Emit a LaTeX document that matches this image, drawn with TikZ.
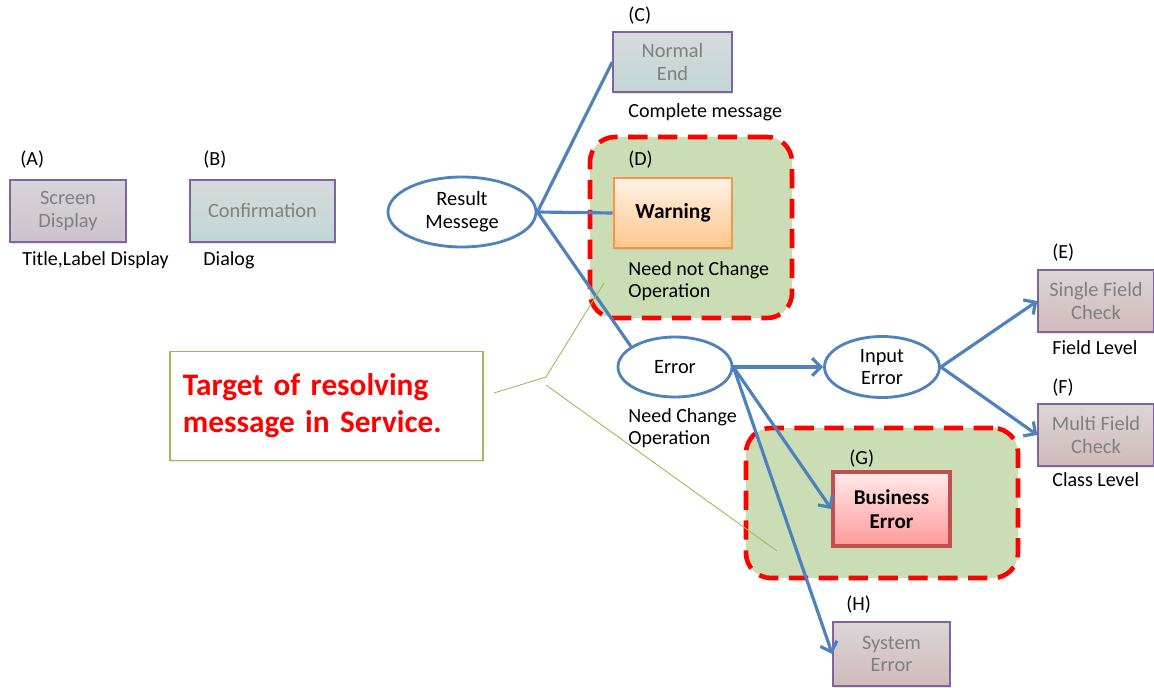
\documentclass[tikz,border=0pt]{standalone}
\usepackage{fontspec}
\setmainfont{Carlito}
\usetikzlibrary{arrows.meta,shapes.geometric,shadows}

\definecolor{linkblue}{HTML}{4F81BD}
\definecolor{framepurple}{HTML}{8064A2}
\definecolor{groupgreen}{HTML}{CADDB4}
\definecolor{calloutgreen}{HTML}{9BBB59}
\definecolor{warnorange}{HTML}{F79646}
\definecolor{bizred}{HTML}{C0504D}

\begin{document}
\begin{tikzpicture}[x=0.2mm, y=-0.2mm,
    lbl/.style={anchor=west, inner sep=0pt, font=\fontsize{11.4}{12.5}\selectfont, align=left},
    greybox/.style={rectangle, draw=framepurple, line width=0.8pt, text=black!50, align=center,
        font=\fontsize{11.6}{13}\selectfont, drop shadow={opacity=0.2, shadow xshift=0.6pt, shadow yshift=-0.9pt}},
    purplefill/.style={top color=violet!12!gray!30, bottom color=violet!18!gray!40},
    bluefill/.style={top color=cyan!5!gray!30, bottom color=cyan!20!gray!40},
    rosefill/.style={top color=red!8!gray!30, bottom color=red!20!gray!45},
    oval/.style={ellipse, draw=linkblue, line width=1.6pt, fill=white, align=center,
        font=\fontsize{11.6}{13}\selectfont, inner sep=0pt},
    groupbox/.style={rectangle, rounded corners=5mm, fill=groupgreen, draw=red, line width=2.6pt,
        dash pattern=on 11pt off 6pt},
    link/.style={draw=linkblue, line width=1.8pt},
    linkarrow/.style={link, -{Straight Barb[length=5pt, width=10pt]}},
    callout/.style={draw=calloutgreen, line width=0.5pt}
]
    \fill[white] (0,0) rectangle (1154,688);
    \useasboundingbox (0,0) rectangle (1154,688);

    % Groups
    \node[groupbox, minimum width=40.4mm, minimum height=36.2mm] (grpD) at (691,227.5) {};
    \node[groupbox, minimum width=54.4mm, minimum height=30mm] (grpG) at (882,503) {};

    % Left boxes
    \node[lbl] (labA) at (20,160) {(A)};
    \node[greybox, purplefill, minimum width=23.2mm, minimum height=12.4mm] (screen) at (68,211) {Screen\\Display};
    \node[lbl] (titleA) at (22,260) {Title,Label Display};

    \node[lbl] (labB) at (203,160) {(B)};
    \node[greybox, bluefill, minimum width=29mm, minimum height=12.4mm] (confirm) at (262.5,211) {Confirmation};
    \node[lbl] (dialog) at (203,260) {Dialog};

    % Result message
    \node[oval, minimum width=29.6mm, minimum height=14mm] (result) at (462,212) {Result\\Messege};

    \node[lbl] (labC) at (628,16) {(C)};
    \node[greybox, bluefill, minimum width=23.8mm, minimum height=12mm] (normal) at (672.5,62) {Normal\\End};
    \node[lbl] (complete) at (628,112) {Complete message};

    \node[lbl] (labD) at (628,160) {(D)};
    \node[rectangle, draw=warnorange, line width=1.6pt, top color=orange!10, bottom color=orange!45,
        minimum width=23.6mm, minimum height=14mm, font=\fontsize{12.2}{14}\selectfont\bfseries,
        drop shadow={opacity=0.2, shadow xshift=0.6pt, shadow yshift=-0.9pt}] (warning) at (673,213) {Warning};
    \node[lbl] (needNot) at (628,281) {Need not Change\\Operation};

    % Error branch
    \node[oval, minimum width=22.8mm, minimum height=12mm] (error) at (675,367) {Error};
    \node[lbl] (needChg) at (628,428) {Need Change\\Operation};
    \node[oval, minimum width=23mm, minimum height=12.2mm] (input) at (882,367) {Input\\Error};

    \node[lbl] (labE) at (1052,253) {(E)};
    \node[greybox, rosefill, minimum width=23.2mm, minimum height=12.4mm] (single) at (1096,301) {Single Field\\Check};
    \node[lbl] (fieldLvl) at (1052,348) {Field Level};

    \node[lbl] (labF) at (1052,388) {(F)};
    \node[greybox, rosefill, minimum width=23.2mm, minimum height=12.4mm] (multi) at (1096,435) {Multi Field\\Check};
    \node[lbl] (classLvl) at (1052,480) {Class Level};

    \node[lbl] (labG) at (849,459) {(G)};
    \node[rectangle, draw=bizred, line width=1.8pt, top color=red!8, bottom color=red!40,
        minimum width=23.4mm, minimum height=14.8mm, align=center, font=\fontsize{12}{14}\selectfont\bfseries,
        drop shadow={opacity=0.2, shadow xshift=0.6pt, shadow yshift=-0.9pt}] (business) at (891.5,509) {Business\\Error};

    \node[lbl] (labH) at (846,605) {(H)};
    \node[greybox, rosefill, minimum width=23.4mm, minimum height=12.8mm] (system) at (891.5,654) {System\\Error};

    % Connectors
    \draw[link] (result.east) -- (normal.west);
    \draw[link] (result.east) -- (warning.west);
    \draw[link] (result.east) -- (error.155);
    \draw[linkarrow] (error.east) -- (input.west);
    \draw[linkarrow] (error.east) -- (business.west);
    \draw[linkarrow] (error.east) -- (system.west);
    \draw[linkarrow] (input.east) -- (single.west);
    \draw[linkarrow] (input.east) -- (multi.west);

    % Callout
    \node[rectangle, draw=calloutgreen, line width=0.6pt, fill=white, minimum width=62.6mm, minimum height=21.8mm,
        inner xsep=2.6mm, text width=57.4mm, align=left, text=red, font=\fontsize{17.8}{21}\selectfont\bfseries,
        drop shadow={opacity=0.2, shadow xshift=0.6pt, shadow yshift=-0.9pt}] (target) at (326.5,406) {Target of resolving\\message in Service.};
    \coordinate (tipStart) at (494,393);
    \coordinate (tipBend) at (546,377);
    \coordinate (tipBendB) at (546,385);
    \coordinate (tipD) at (604,283);
    \coordinate (tipG) at (777,551);
    \draw[callout] (tipStart) -- (tipBend) -- (tipD);
    \draw[callout] (tipBendB) -- (tipG);
\end{tikzpicture}
\end{document}
